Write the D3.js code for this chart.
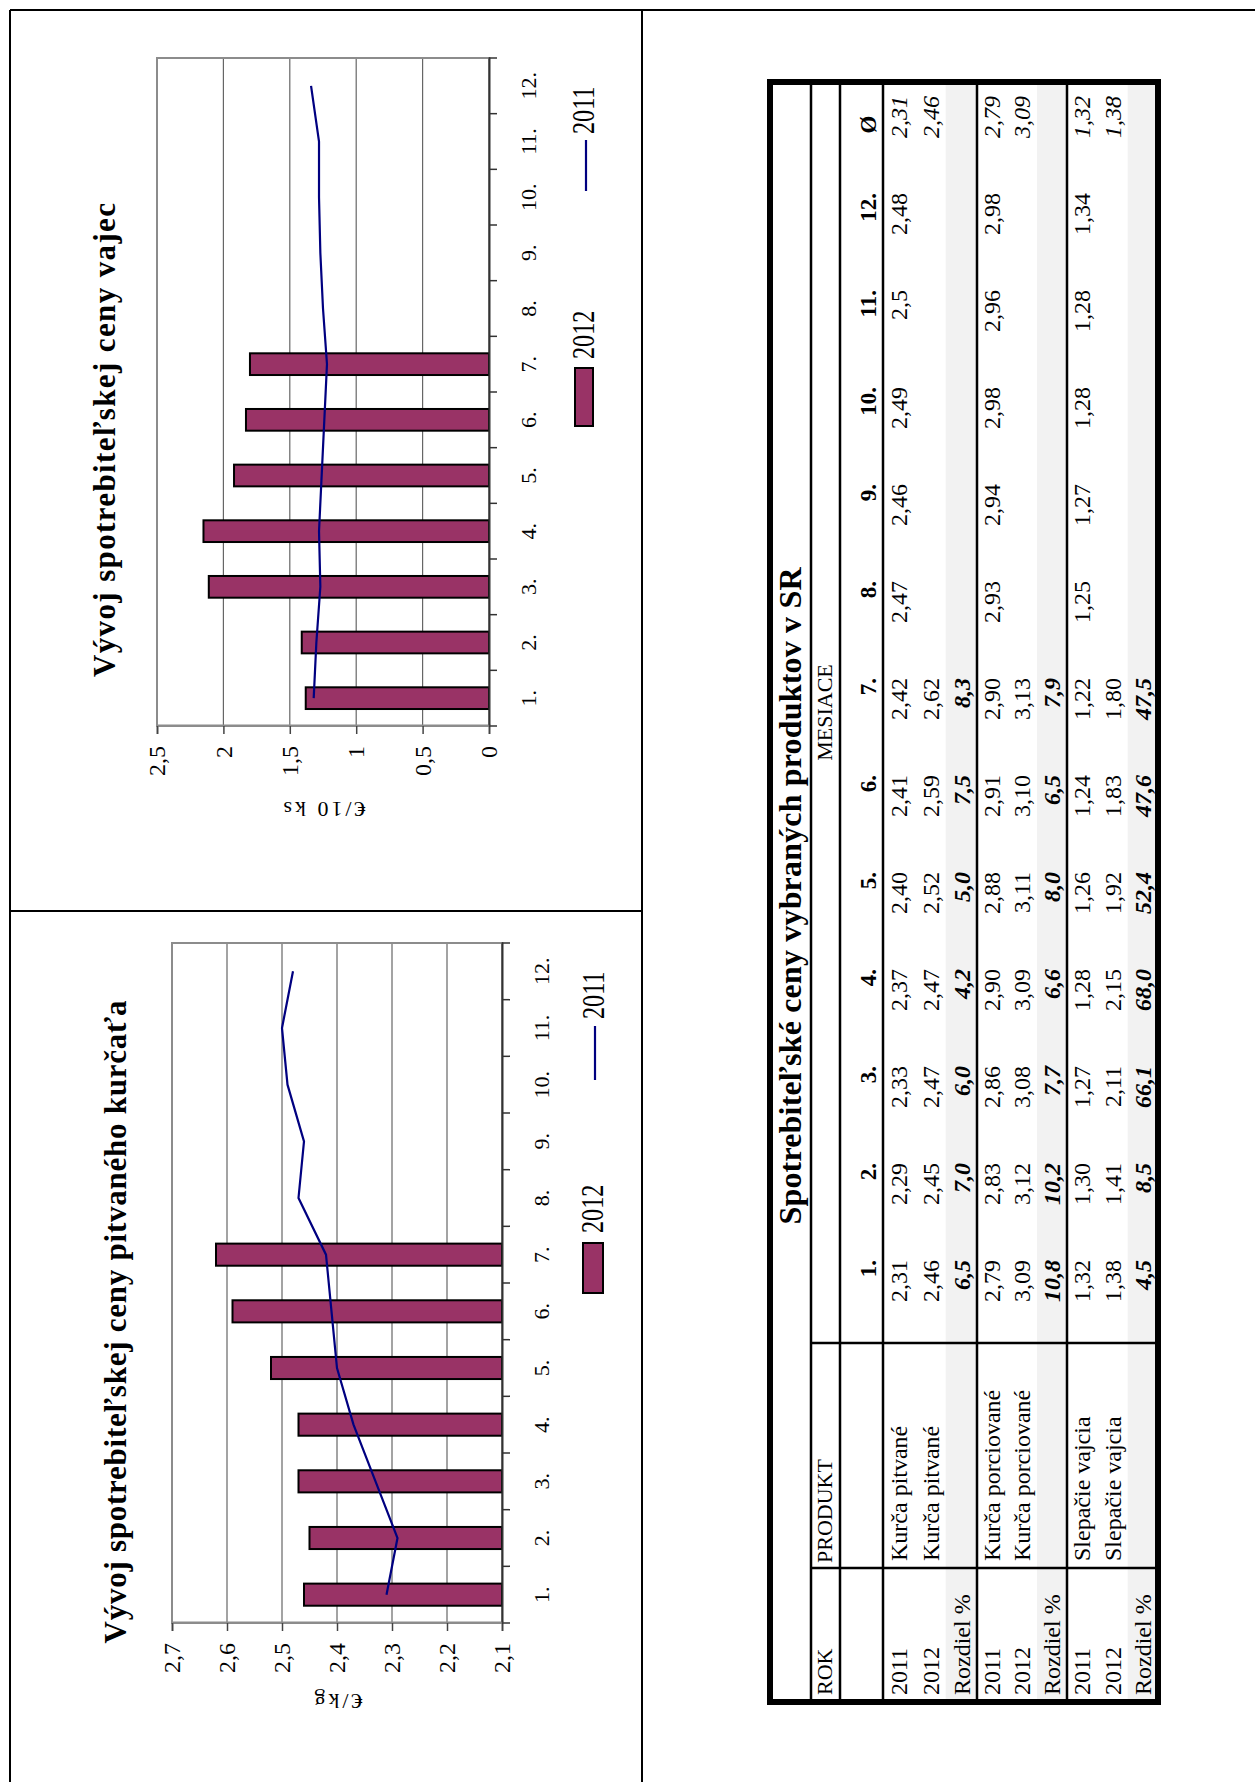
<!DOCTYPE html>
<html>
<head>
<meta charset="utf-8">
<script src="https://cdn.jsdelivr.net/npm/d3@7"></script>
<style>
  body { margin: 0; background: #fff; }
  svg { display: block; }
  text { font-family: "Liberation Serif", "Times New Roman", serif; fill: #000; }
</style>
</head>
<body>
<div id="page"></div>
<script>
// ---- data ----
const months = ["1.", "2.", "3.", "4.", "5.", "6.", "7.", "8.", "9.", "10.", "11.", "12."];
const chicken2011 = [2.31, 2.29, 2.33, 2.37, 2.40, 2.41, 2.42, 2.47, 2.46, 2.49, 2.50, 2.48];
const chicken2012 = [2.46, 2.45, 2.47, 2.47, 2.52, 2.59, 2.62];
const eggs2011 = [1.32, 1.30, 1.27, 1.28, 1.26, 1.24, 1.22, 1.25, 1.27, 1.28, 1.28, 1.34];
const eggs2012 = [1.38, 1.41, 2.11, 2.15, 1.92, 1.83, 1.80];
const chickenTicks = [2.1, 2.2, 2.3, 2.4, 2.5, 2.6, 2.7];
const eggTicks = [0, 0.5, 1, 1.5, 2, 2.5];

// table (last entry of each row = Ø column)
const tableCols = months.concat(["Ø"]);
const yearLabels = ["2011", "2012", "Rozdiel %"];
const products = ["Kurča pitvané", "Kurča porciované", "Slepačie vajcia"];
const pitvane2011 = ["2,31", "2,29", "2,33", "2,37", "2,40", "2,41", "2,42", "2,47", "2,46", "2,49", "2,5", "2,48", "2,31"];
const pitvane2012 = ["2,46", "2,45", "2,47", "2,47", "2,52", "2,59", "2,62", "", "", "", "", "", "2,46"];
const pitvaneDiff = ["6,5", "7,0", "6,0", "4,2", "5,0", "7,5", "8,3"];
const porcio2011 = ["2,79", "2,83", "2,86", "2,90", "2,88", "2,91", "2,90", "2,93", "2,94", "2,98", "2,96", "2,98", "2,79"];
const porcio2012 = ["3,09", "3,12", "3,08", "3,09", "3,11", "3,10", "3,13", "", "", "", "", "", "3,09"];
const porcioDiff = ["10,8", "10,2", "7,7", "6,6", "8,0", "6,5", "7,9"];
const vajcia2011 = ["1,32", "1,30", "1,27", "1,28", "1,26", "1,24", "1,22", "1,25", "1,27", "1,28", "1,28", "1,34", "1,32"];
const vajcia2012 = ["1,38", "1,41", "2,11", "2,15", "1,92", "1,83", "1,80", "", "", "", "", "", "1,38"];
const vajciaDiff = ["4,5", "8,5", "66,1", "68,0", "52,4", "47,6", "47,5"];

const W = 1255, H = 1782;
const fmt = d3.formatLocale({decimal: ",", thousands: " ", grouping: [3], currency: ["", ""]}).format(".2~f");

const svg = d3.select("#page").append("svg").attr("width", W).attr("height", H);
// whole page is printed sideways: draw in landscape coords (u across, v down) and turn it
const g = svg.append("g").attr("transform", `translate(0,${H}) rotate(-90)`);

function hline(sel, u0, u1, v, w) {
  sel.append("line").attr("x1", u0).attr("x2", u1).attr("y1", v).attr("y2", v)
    .attr("stroke", "#000").attr("stroke-width", w);
}
function vline(sel, u, v0, v1, w) {
  sel.append("line").attr("x1", u).attr("x2", u).attr("y1", v0).attr("y2", v1)
    .attr("stroke", "#000").attr("stroke-width", w);
}

// page frame
hline(g, 0, 1772, 10, 2);
hline(g, 0, 1772, 642, 2);
vline(g, 1772, 10, 1255, 2);
vline(g, 871, 10, 642, 2);

// ---- charts ----
const charts = [
  {title: "Vývoj spotrebiteľskej ceny pitvaného kurčaťa", tu: 460, tv: 126, tlen: 643,
   unit: "€/kg", uu: 88, uv: 337,
   u0: 159, u1: 839, v0: 172, v1: 502, ticks: chickenTicks, bars: chicken2012, line: chicken2011,
   leg: {sw: [489, 583, 50, 20], t12: [549, 603], ln: [702, 756, 595], t11: [763, 604]}},
  {title: "Vývoj spotrebiteľskej ceny vajec", tu: 1342, tv: 115, tlen: 474,
   unit: "€/10 ks", uu: 980, uv: 323,
   u0: 1056, u1: 1724, v0: 157, v1: 489, ticks: eggTicks, bars: eggs2012, line: eggs2011,
   leg: {sw: [1356, 575, 58, 18], t12: [1423, 594], ln: [1591, 1642, 586], t11: [1648, 594]}}
];

charts.forEach(c => {
  const x = d3.scaleBand().domain(months).range([c.u0, c.u1]);
  const y = d3.scaleLinear().domain(d3.extent(c.ticks)).range([c.v1, c.v0]);
  const ch = g.append("g");

  ch.selectAll("line.grid").data(c.ticks.slice(1, -1)).join("line")
    .attr("class", "grid")
    .attr("x1", c.u0).attr("x2", c.u1)
    .attr("y1", d => y(d)).attr("y2", d => y(d))
    .attr("stroke", "#666").attr("stroke-width", 1.2);

  ch.append("rect")
    .attr("x", c.u0).attr("y", c.v0).attr("width", c.u1 - c.u0).attr("height", c.v1 - c.v0)
    .attr("fill", "none").attr("stroke", "#8c8c8c").attr("stroke-width", 2);

  const bw = x.bandwidth() * 0.39;
  ch.selectAll("rect.bar").data(c.bars).join("rect")
    .attr("class", "bar")
    .attr("x", (d, i) => x(months[i]) + (x.bandwidth() - bw) / 2)
    .attr("y", d => y(d))
    .attr("width", bw)
    .attr("height", d => y.range()[0] - y(d))
    .attr("fill", "#993366").attr("stroke", "#000").attr("stroke-width", 2);

  ch.append("path")
    .datum(c.line)
    .attr("fill", "none").attr("stroke", "#000080").attr("stroke-width", 2.2)
    .attr("d", d3.line().x((d, i) => x(months[i]) + x.bandwidth() / 2).y(d => y(d)));

  // value axis
  const ya = ch.append("g").attr("transform", `translate(${c.u0},0)`)
    .call(d3.axisLeft(y).tickValues(c.ticks).tickFormat(fmt).tickSize(8).tickPadding(12));
  ya.select(".domain").attr("stroke", "#8c8c8c").attr("stroke-width", 2);
  ya.selectAll(".tick line").attr("stroke", "#444").attr("stroke-width", 1.5);
  ya.selectAll(".tick text").attr("font-size", 24).attr("font-family", "Liberation Serif");

  // category axis
  const xa = ch.append("g").attr("transform", `translate(0,${c.v1})`)
    .call(d3.axisBottom(x).tickSize(0).tickSizeOuter(0).tickPadding(31));
  xa.select(".domain").attr("stroke", "#333").attr("stroke-width", 2);
  xa.selectAll(".tick text").attr("font-size", 22).attr("font-family", "Liberation Serif");
  xa.selectAll("line.edge").data(months.map(m => x(m)).concat([c.u1])).join("line")
    .attr("class", "edge")
    .attr("x1", d => d).attr("x2", d => d).attr("y1", 0).attr("y2", 8)
    .attr("stroke", "#333").attr("stroke-width", 1.5);

  ch.append("text")
    .attr("x", c.tu).attr("y", c.tv)
    .attr("text-anchor", "middle").attr("font-size", 31).attr("font-weight", "bold")
    .attr("textLength", c.tlen).attr("lengthAdjust", "spacing")
    .text(c.title);

  ch.append("text")
    .attr("transform", `translate(${c.uu},${c.uv}) rotate(-90)`)
    .attr("text-anchor", "middle").attr("font-size", 22).attr("letter-spacing", 3)
    .text(c.unit);

  // legend
  const L = c.leg;
  ch.append("rect").attr("x", L.sw[0]).attr("y", L.sw[1]).attr("width", L.sw[2]).attr("height", L.sw[3])
    .attr("fill", "#993366").attr("stroke", "#000").attr("stroke-width", 2);
  ch.append("text").attr("transform", `translate(${L.t12[0]},${L.t12[1]}) scale(0.78,1)`)
    .attr("font-size", 31).text("2012");
  ch.append("line").attr("x1", L.ln[0]).attr("x2", L.ln[1]).attr("y1", L.ln[2]).attr("y2", L.ln[2])
    .attr("stroke", "#000080").attr("stroke-width", 2.2);
  ch.append("text").attr("transform", `translate(${L.t11[0]},${L.t11[1]}) scale(0.78,1)`)
    .attr("font-size", 31).text("2011");
});

// ---- table ----
const tU0 = 80, tU1 = 1700, tV0 = 770, tV1 = 1158;
const colRok = 80, colProd = 214, colMonths = 439;
const groupEdges = [883, 977, 1067, tV1];
const groupData = [
  [pitvane2011, pitvane2012, pitvaneDiff],
  [porcio2011, porcio2012, porcioDiff],
  [vajcia2011, vajcia2012, vajciaDiff]
];

const cx = d3.scaleBand().domain(tableCols).range([colMonths, tU1]);
const tb = g.append("g");

// rows built from the arrays above
const rows = [];
groupData.forEach((grp, gi) => {
  const top = groupEdges[gi], rh = (groupEdges[gi + 1] - top) / 3;
  grp.forEach((vals, ri) => rows.push({
    top: top + ri * rh, h: rh, label: yearLabels[ri],
    product: ri < 2 ? products[gi] : "", values: vals, diff: ri === 2
  }));
});
const base = r => r.top + r.h - 7;

tb.selectAll("rect.shade").data(rows.filter(r => r.diff)).join("rect")
  .attr("class", "shade")
  .attr("x", tU0).attr("y", d => d.top).attr("width", tU1 - tU0).attr("height", d => d.h)
  .attr("fill", "#f2f2f2");

tb.append("text").attr("x", 886).attr("y", 801)
  .attr("text-anchor", "middle").attr("font-size", 32).attr("font-weight", "bold")
  .attr("textLength", 657).attr("lengthAdjust", "spacing")
  .text("Spotrebiteľské ceny vybraných produktov v SR");

tb.append("text").attr("x", 87).attr("y", 832).attr("font-size", 22).text("ROK");
tb.append("text").attr("x", 219).attr("y", 832).attr("font-size", 22).text("PRODUKT");
tb.append("text").attr("x", (colMonths + tU1) / 2).attr("y", 832).attr("text-anchor", "middle")
  .attr("font-size", 22).text("MESIACE");

tb.selectAll("text.mhead").data(tableCols).join("text")
  .attr("class", "mhead")
  .attr("x", d => d === "Ø" ? cx(d) + cx.bandwidth() / 2 + 6 : cx(d) + cx.bandwidth() - 14)
  .attr("y", 876)
  .attr("text-anchor", d => d === "Ø" ? "middle" : "end")
  .attr("font-size", 23).attr("font-weight", "bold")
  .text(d => d);

const rowG = tb.selectAll("g.row").data(rows).join("g").attr("class", "row");
rowG.append("text").attr("x", 87).attr("y", base).attr("font-size", 24).text(d => d.label);
rowG.append("text").attr("x", 221).attr("y", base).attr("font-size", 24).text(d => d.product);
rowG.selectAll("text.val").data(d => d.values.map((v, i) => ({v, col: tableCols[i], r: d}))).join("text")
  .attr("class", "val")
  .attr("x", d => cx(d.col) + cx.bandwidth() - 14)
  .attr("y", d => base(d.r))
  .attr("text-anchor", "end")
  .attr("font-size", 24)
  .attr("font-weight", d => d.r.diff ? "bold" : "normal")
  .attr("font-style", d => (d.r.diff || d.col === "Ø") ? "italic" : "normal")
  .text(d => d.v);

// rules
[811, 840, 883, 977, 1067].forEach(v => hline(tb, tU0, tU1, v, 2.5));
vline(tb, colProd, 811, tV1, 2.5);
vline(tb, colMonths, 811, tV1, 2.5);
tb.append("rect").attr("x", tU0).attr("y", tV0).attr("width", tU1 - tU0).attr("height", tV1 - tV0)
  .attr("fill", "none").attr("stroke", "#000").attr("stroke-width", 6);
</script>
</body>
</html>
